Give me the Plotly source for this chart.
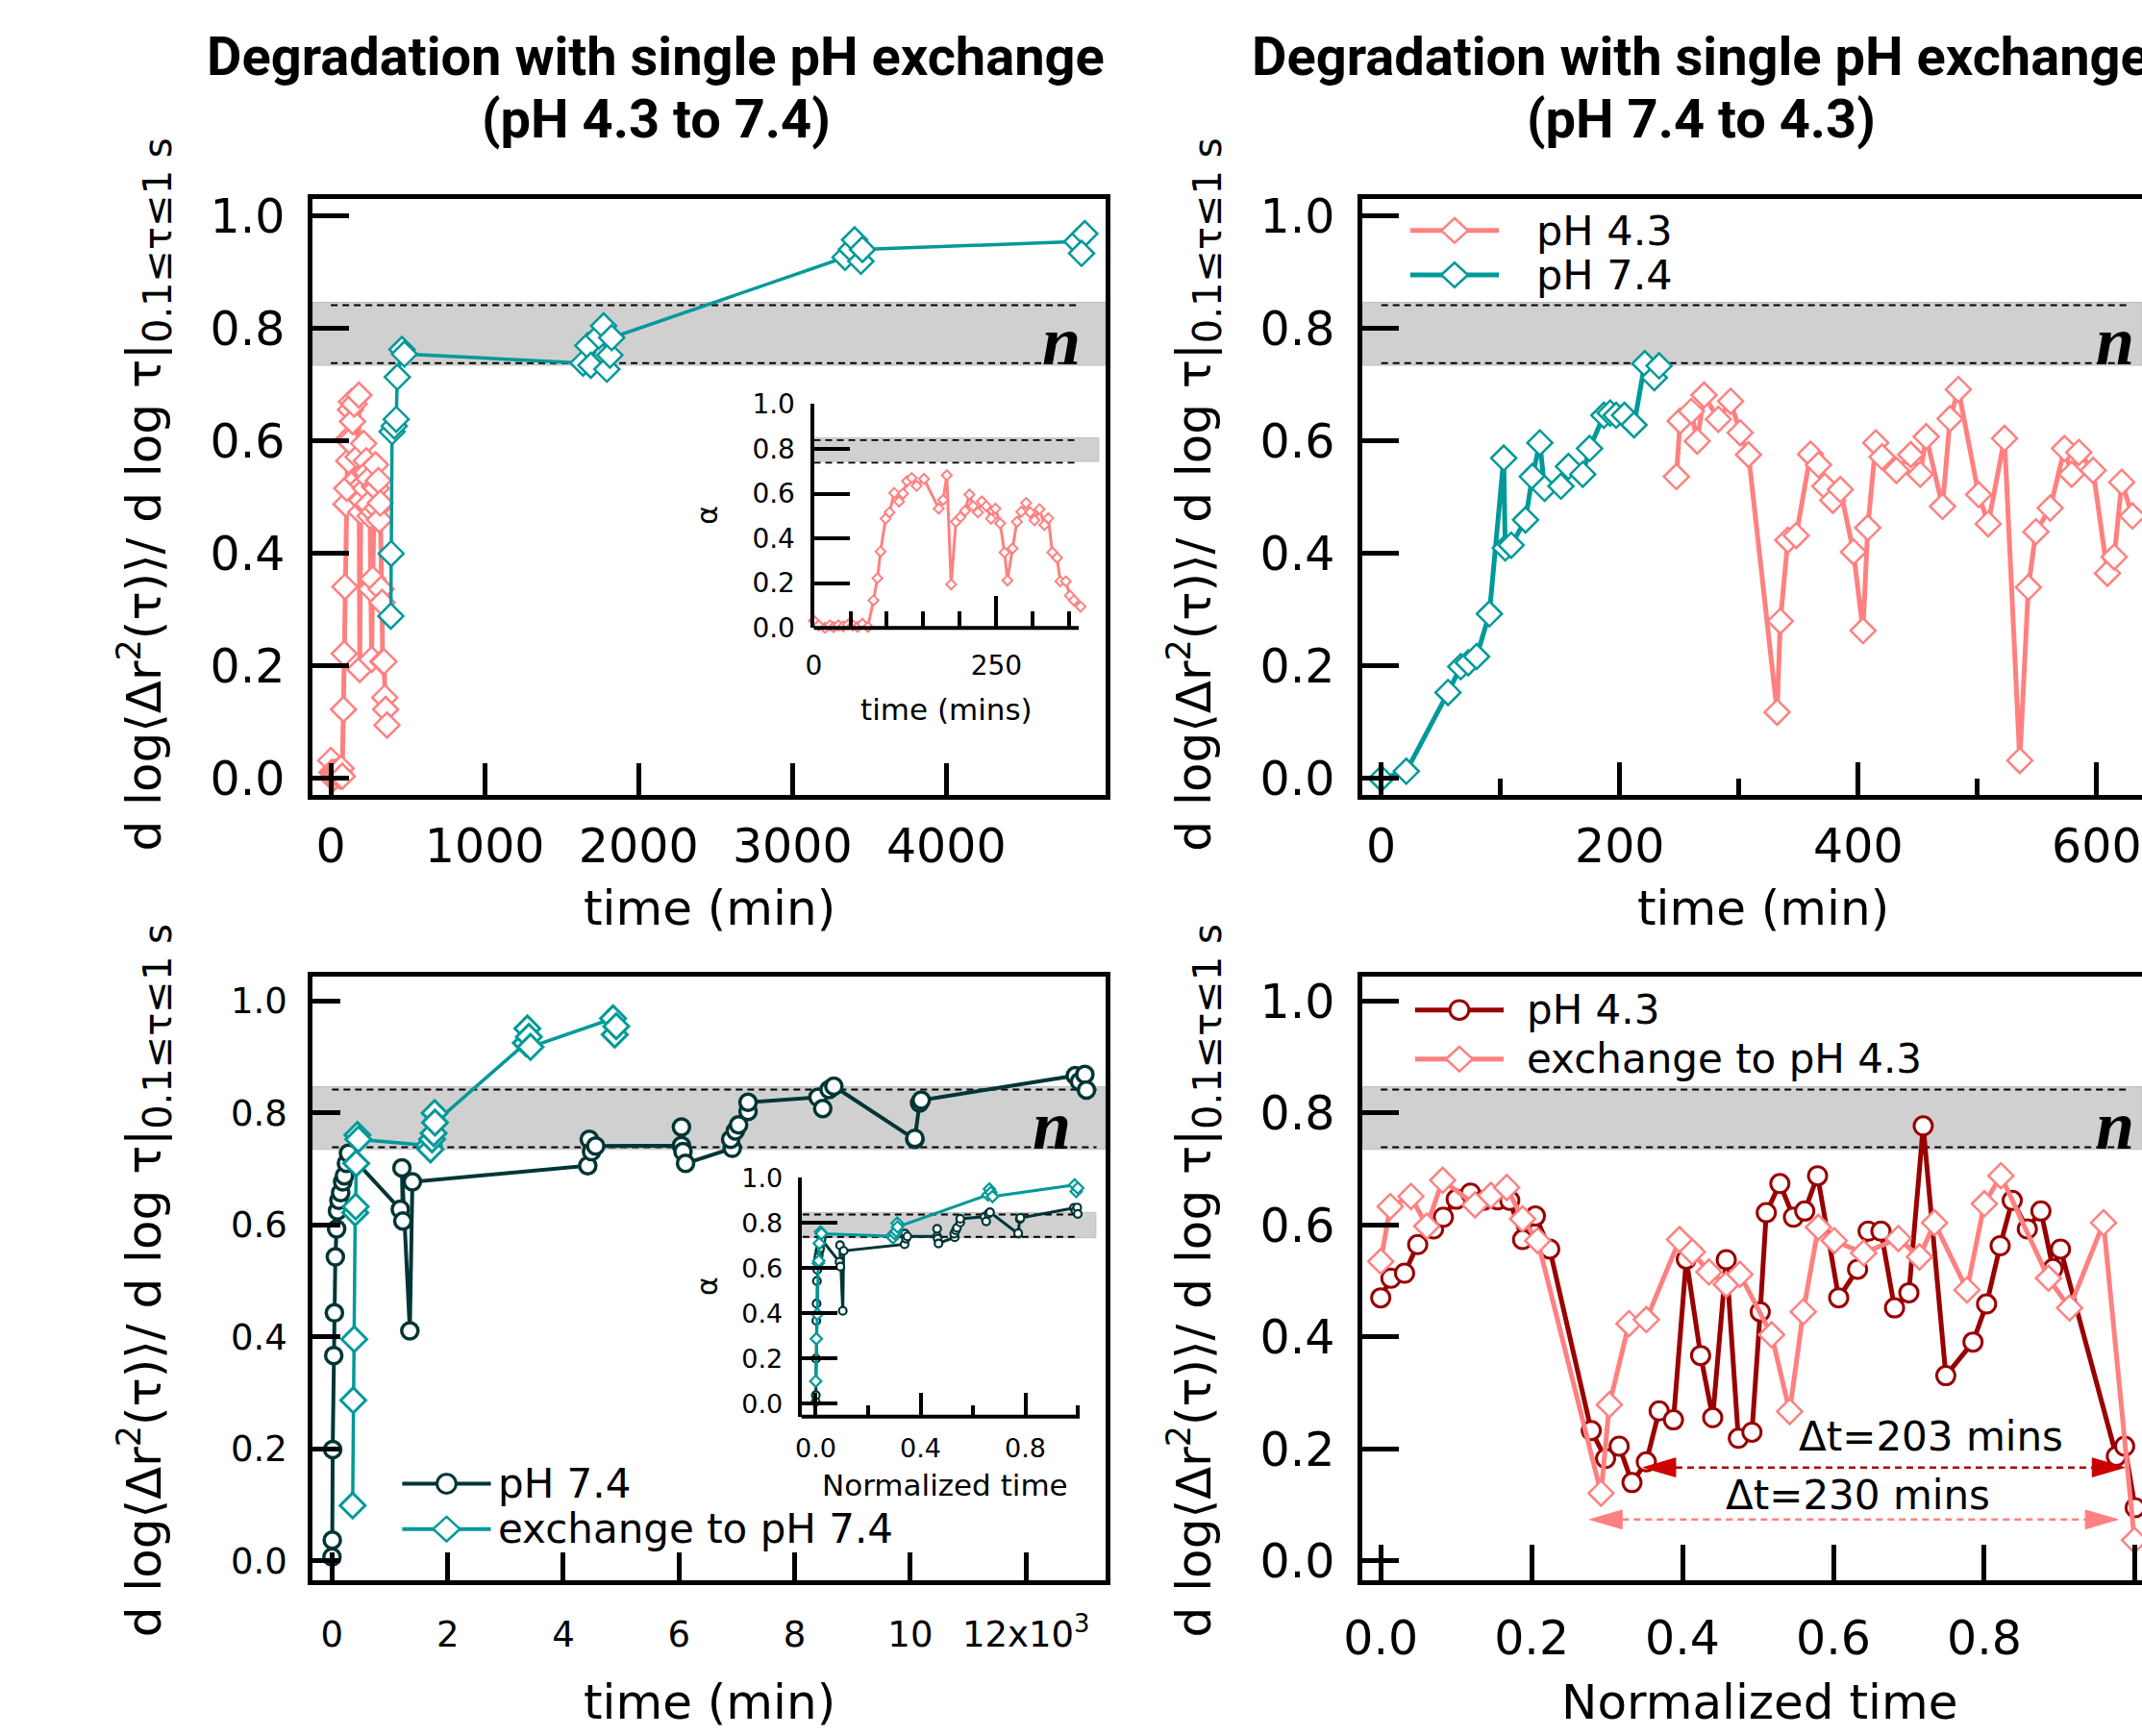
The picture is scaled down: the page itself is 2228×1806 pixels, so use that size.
import plotly.graph_objects as go

W, H = 2228, 1806

# ---------------- data ----------------
# Top-left: pH 4.3 before exchange (also shown in the inset, time in min)
tl_ph43_t = [0, 6.6, 15.3, 21.9, 27.1, 33.7, 40.2, 46.8, 53.4, 59.9, 66.4, 73.9,
             81.7, 87, 91.3, 98.3, 103.6, 110, 116.7, 122, 127.6, 134,
             140.7, 150.8, 171, 177, 182, 188, 194.5, 200.6, 207, 213,
             218, 224.7, 230, 236, 242.6, 248.7, 255, 261, 265, 272,
             278, 284, 290.6, 296, 302, 309, 315.6, 321, 326.5, 333,
             337.4, 345, 350.5, 356, 365]
tl_ph43_v = [0.032, 0.011, 0.0, 0.011, 0.003, 0.011, 0.007, 0.014, 0.011, 0.004, 0.018, 0.004,
             0.123, 0.222, 0.341, 0.488, 0.516, 0.603, 0.565, 0.60, 0.656, 0.67,
             0.635, 0.666, 0.533, 0.572, 0.682, 0.194, 0.474, 0.495, 0.523, 0.596,
             0.544, 0.516, 0.565, 0.544, 0.488, 0.533, 0.467, 0.337, 0.212, 0.355,
             0.474, 0.519, 0.558, 0.516, 0.481, 0.530, 0.46, 0.49, 0.337, 0.313,
             0.208, 0.208, 0.144, 0.123, 0.095]
# Top-left: after exchange to pH 7.4
tl_ph74_t = [390, 392, 398, 412, 425, 432, 462, 478, 1639, 1670, 1690, 1742, 1773, 1794,
             1814, 1825, 3342, 3383, 3404, 3445, 3455, 4848, 4900, 4879]
tl_ph74_v = [0.289, 0.40, 0.617, 0.627, 0.639, 0.714, 0.763, 0.755, 0.739, 0.77, 0.735, 0.787,
             0.805, 0.728, 0.753, 0.784, 0.927, 0.941, 0.958, 0.92, 0.941, 0.955, 0.969, 0.934]

# Top-right: pH 7.4 then exchange to pH 4.3 (time in min)
tr_ph74_t = [0, 21, 56, 66.7, 73, 80, 90.7, 102.7, 104, 109, 121, 126.7, 133, 137, 150.7,
             157, 169, 174.7, 186.7, 192, 197, 204, 212, 221, 229, 233]
tr_ph74_v = [0.0, 0.013, 0.153, 0.199, 0.206, 0.217, 0.293, 0.570, 0.41, 0.415, 0.46, 0.537,
             0.597, 0.516, 0.52, 0.555, 0.541, 0.587, 0.646, 0.65, 0.646, 0.646, 0.629, 0.738,
             0.713, 0.734]
tr_ph43_t = [247.5, 250.7, 260, 265, 270.7, 282.7, 293, 301, 308, 332,
             334.7, 341, 348, 360, 366.7, 372, 378.7, 385, 396, 404,
             408, 414.7, 420, 432, 444, 452, 457, 470.7, 477, 484,
             501, 509, 522.7, 535.5, 542.7, 549, 561, 573, 579, 585,
             597, 609, 614.7, 621, 630]
tr_ph43_v = [0.537, 0.636, 0.653, 0.6, 0.682, 0.639, 0.671, 0.615, 0.576, 0.118,
             0.28, 0.424, 0.432, 0.577, 0.558, 0.52, 0.495, 0.514, 0.403, 0.263,
             0.446, 0.597, 0.572, 0.548, 0.576, 0.541, 0.608, 0.484, 0.64, 0.692,
             0.505, 0.453, 0.605, 0.032, 0.34, 0.439, 0.481, 0.587, 0.541, 0.58,
             0.548, 0.365, 0.394, 0.527, 0.467]

# Bottom-left: pH 7.4 control and exchange to pH 7.4 (time in min)
bl_ph74_t = [0, 5, 12, 30, 42, 58, 80, 95, 120, 150, 185, 215, 250, 285,
             1181, 1225, 1209, 1346, 1390, 4422, 4449, 4488, 4559,
             6042, 6042, 6069, 6113, 6920, 6893, 6975, 7030, 7194, 7194,
             8403, 8485, 8595, 8677, 10078, 10078, 10160, 10188,
             12852, 12924, 13017, 13045]
bl_ph74_v = [0.007, 0.037, 0.199, 0.367, 0.443, 0.543, 0.593, 0.625, 0.644, 0.658, 0.677, 0.688, 0.71, 0.728,
             0.628, 0.607, 0.702, 0.411, 0.677, 0.706, 0.753, 0.731, 0.741,
             0.742, 0.775, 0.731, 0.71, 0.737, 0.753, 0.768, 0.779, 0.803, 0.819,
             0.828, 0.808, 0.842, 0.848, 0.753, 0.755, 0.818, 0.823,
             0.867, 0.856, 0.869, 0.841]
bl_ex74_t = [357, 368, 385, 401, 410, 418, 440, 456, 1675, 1703, 1730, 1758, 1774, 1780,
             3351, 3378, 3405, 3432, 4860, 4888, 4915]
bl_ex74_v = [0.099, 0.287, 0.396, 0.622, 0.633, 0.71, 0.761, 0.753, 0.742, 0.735, 0.753, 0.764,
             0.80, 0.783, 0.925, 0.951, 0.936, 0.918, 0.969, 0.94, 0.955]

# Bottom-right: normalized time
br_ph43_x = [0.0, 0.0135, 0.0316, 0.049, 0.070, 0.083, 0.100, 0.119, 0.136, 0.155,
             0.171, 0.188, 0.205, 0.224, 0.279, 0.298, 0.316, 0.333, 0.352, 0.369,
             0.388, 0.405, 0.424, 0.44, 0.458, 0.474, 0.492, 0.503, 0.511, 0.529,
             0.547, 0.562, 0.579, 0.607, 0.632, 0.646, 0.663, 0.681, 0.700, 0.719,
             0.749, 0.785, 0.803, 0.821, 0.837, 0.857, 0.875, 0.891, 0.901, 0.975,
             0.986, 1.0]
br_ph43_v = [0.470, 0.505, 0.514, 0.565, 0.593, 0.614, 0.646, 0.657, 0.644, 0.645,
             0.644, 0.574, 0.616, 0.557, 0.233, 0.183, 0.205, 0.140, 0.177, 0.268,
             0.252, 0.539, 0.367, 0.256, 0.538, 0.219, 0.230, 0.445, 0.622, 0.674,
             0.614, 0.625, 0.688, 0.470, 0.521, 0.589, 0.589, 0.452, 0.479, 0.777,
             0.331, 0.391, 0.459, 0.563, 0.644, 0.593, 0.625, 0.522, 0.557, 0.187,
             0.205, 0.095]
br_ex43_x = [0.0, 0.0126, 0.040, 0.061, 0.082, 0.125, 0.146, 0.167, 0.188, 0.208,
             0.292, 0.303, 0.329, 0.352, 0.396, 0.413, 0.435, 0.458, 0.476, 0.518,
             0.542, 0.560, 0.580, 0.601, 0.640, 0.686, 0.714, 0.734, 0.777, 0.800,
             0.822, 0.885, 0.913, 0.958, 0.999]
br_ex43_v = [0.535, 0.633, 0.651, 0.598, 0.680, 0.636, 0.653, 0.667, 0.611, 0.572,
             0.121, 0.279, 0.424, 0.431, 0.574, 0.552, 0.516, 0.494, 0.512, 0.404,
             0.267, 0.445, 0.596, 0.572, 0.550, 0.576, 0.543, 0.604, 0.484, 0.638,
             0.688, 0.505, 0.452, 0.604, 0.037]

# tick values / labels
y_ticks = [0.0, 0.2, 0.4, 0.6, 0.8, 1.0]
y_ticktext = ["0.0", "0.2", "0.4", "0.6", "0.8", "1.0"]
tl_xticks = [0, 1000, 2000, 3000, 4000]
tr_xticks = [0, 200, 400, 600]
tr_xminor = [100, 300, 500]
bl_xticks = [0, 2000, 4000, 6000, 8000, 10000, 12000]
bl_xticktext = ["0", "2", "4", "6", "8", "10", "12x10<sup>3</sup>"]
br_xticks = [0.0, 0.2, 0.4, 0.6, 0.8, 1.0]
br_xticktext = ["0.0", "0.2", "0.4", "0.6", "0.8", "1.0"]
in1_xticks = [0, 250]
in1_xminor = [50, 100, 150, 200, 300, 350]
in2_xticks = [0.0, 0.4, 0.8]
in2_xminor = [0.2, 0.6, 1.0]

# derived: normalized times for the bottom-left inset
bl_ph74_norm = [t / max(bl_ph74_t) for t in bl_ph74_t]
t0, t1 = min(bl_ex74_t), max(bl_ex74_t)
bl_ex74_norm = [(t - t0) / (t1 - t0) for t in bl_ex74_t]

# ---------------- style ----------------
PINK = "#FF8080"
TEAL = "#009999"
DTEAL = "#003535"
DRED = "#990000"
BANDC = "#D1D0D1"
FONT = "DejaVu Sans, sans-serif"
TFONT = "Roboto, Liberation Sans, sans-serif"
NFONT = "Liberation Serif, DejaVu Serif, serif"


def px(x):
    return x / W


def py(y):
    return 1 - y / H


fig = go.Figure()


def add(xs, ys, xa, ya, color, symbol, size, lw, mlw):
    fig.add_trace(go.Scatter(
        x=xs, y=ys, xaxis=xa, yaxis=ya, mode="lines+markers",
        line=dict(color=color, width=lw),
        marker=dict(symbol=symbol, size=size, color="white", line=dict(color=color, width=mlw)),
        cliponaxis=False, showlegend=False, hoverinfo="skip"))


# main panels
add(tl_ph43_t, tl_ph43_v, "x", "y", PINK, "diamond", 20, 5, 2.5)
add(tl_ph74_t, tl_ph74_v, "x", "y", TEAL, "diamond", 20, 3.5, 2.5)
add(tr_ph74_t, tr_ph74_v, "x2", "y2", TEAL, "diamond", 20, 5, 2.5)
add(tr_ph43_t, tr_ph43_v, "x2", "y2", PINK, "diamond", 20, 5, 2.5)
add(bl_ph74_t, bl_ph74_v, "x3", "y3", DTEAL, "circle", 17, 4, 3.5)
add(bl_ex74_t, bl_ex74_v, "x3", "y3", TEAL, "diamond", 20, 3.5, 3)
add(br_ph43_x, br_ph43_v, "x4", "y4", DRED, "circle", 19, 5, 3)
add(br_ex43_x, br_ex43_v, "x4", "y4", PINK, "diamond", 20, 5, 2.5)
# insets
add(tl_ph43_t, tl_ph43_v, "x5", "y5", PINK, "diamond", 8, 3, 2)
add(bl_ph74_norm, bl_ph74_v, "x6", "y6", DTEAL, "circle", 8, 3, 2.2)
add(bl_ex74_norm, bl_ex74_v, "x6", "y6", TEAL, "diamond", 9, 3, 2.2)


def main_axis(dom, rng, anchor, tickvals, ticktext, ticklen, fsize, mirror, **kw):
    d = dict(domain=dom, range=rng, anchor=anchor, showgrid=False, zeroline=False,
             showline=True, linecolor="black", linewidth=5, mirror=mirror,
             ticks="inside", ticklen=ticklen, tickwidth=5, tickcolor="black",
             tickmode="array", tickvals=tickvals, ticktext=ticktext,
             tickfont=dict(family=FONT, size=fsize, color="black"))
    d.update(kw)
    return d


TOP = [py(826), py(195)]
BOT = [py(1658), py(1019)]
LEFT = [px(308), px(1140)]
RIGHT = [px(1410), 1.0]
YR_TOP = [-0.029, 1.03]
YR_BOT = [-0.034, 1.043]

layout = dict(
    width=W, height=H, margin=dict(l=0, r=0, t=0, b=0),
    paper_bgcolor="white", plot_bgcolor="rgba(0,0,0,0)", showlegend=False,
    xaxis=main_axis(LEFT, [-118, 5034], "y", tl_xticks, [str(v) for v in tl_xticks], 33, 49, True,
                    ticklabelstandoff=6),
    yaxis=main_axis(TOP, YR_TOP, "x", y_ticks, y_ticktext, 38, 49, True, ticklabelstandoff=14),
    xaxis2=main_axis(RIGHT, [-15.6, 638], "y2", tr_xticks, [str(v) for v in tr_xticks], 34, 49, True,
                     ticklabelstandoff=6,
                     minor=dict(tickvals=tr_xminor, ticklen=17, tickwidth=5, ticks="inside", tickcolor="black")),
    yaxis2=main_axis(TOP, YR_TOP, "x2", y_ticks, y_ticktext, 38, 49, False, ticklabelstandoff=14),
    xaxis3=main_axis(LEFT, [-334, 13372], "y3", bl_xticks, bl_xticktext, 29, 37, True,
                     ticklabelstandoff=20),
    yaxis3=main_axis(BOT, YR_BOT, "x3", y_ticks, y_ticktext, 29, 37, True, ticklabelstandoff=14),
    xaxis4=main_axis(RIGHT, [-0.024, 1.009], "y4", br_xticks, br_xticktext, 37, 49, True,
                     ticklabelstandoff=13),
    yaxis4=main_axis(BOT, YR_BOT, "x4", y_ticks, y_ticktext, 38, 49, False, ticklabelstandoff=14),
    # inset 1 (top-left)
    xaxis5=dict(domain=[px(834), px(1133)], range=[0, 390], anchor="y5", showgrid=False, zeroline=False,
                showline=False, ticks="inside", ticklen=33, tickwidth=4, tickcolor="black",
                tickmode="array", tickvals=in1_xticks, ticktext=[str(v) for v in in1_xticks],
                minor=dict(tickvals=in1_xminor, ticklen=17, tickwidth=4, ticks="inside", tickcolor="black"),
                tickfont=dict(family=FONT, size=28, color="black"), ticklabelstandoff=20),
    yaxis5=dict(domain=[py(649), py(412)], range=[0, 1.0], anchor="x5", showgrid=False, zeroline=False,
                showline=True, linecolor="black", linewidth=4, ticks="inside", ticklen=37, tickwidth=4,
                tickcolor="black", tickmode="array", tickvals=y_ticks, ticktext=y_ticktext,
                tickfont=dict(family=FONT, size=28, color="black"), ticklabelstandoff=10),
    # inset 2 (bottom-left)
    xaxis6=dict(domain=[px(821), px(1130)], range=[-0.0545, 1.069], anchor="y6", showgrid=False,
                zeroline=False, showline=False, ticks="inside", ticklen=25, tickwidth=4, tickcolor="black",
                tickmode="array", tickvals=in2_xticks, ticktext=["0.0", "0.4", "0.8"],
                minor=dict(tickvals=in2_xminor, ticklen=12, tickwidth=4, ticks="inside", tickcolor="black"),
                tickfont=dict(family=FONT, size=27, color="black"), ticklabelstandoff=14),
    yaxis6=dict(domain=[py(1485), py(1232)], range=[-0.0586, 1.0], anchor="x6", showgrid=False,
                zeroline=False, showline=True, linecolor="black", linewidth=4, ticks="inside", ticklen=37,
                tickwidth=4, tickcolor="black", tickmode="array", tickvals=y_ticks, ticktext=y_ticktext,
                tickfont=dict(family=FONT, size=27, color="black"), ticklabelstandoff=10),
)
fig.update_layout(**layout)

shapes = []
annotations = []


def band(xa, ya, y0, y1, xdash0, xdash1, d0=0.739, d1=0.842, dashw=2):
    shapes.append(dict(type="rect", xref=xa + " domain", yref=ya, x0=0, x1=1, y0=y0, y1=y1,
                       fillcolor=BANDC, line=dict(color="#BEBEBE", width=1), layer="below"))
    for yy in (d0, d1):
        shapes.append(dict(type="line", xref=xa, yref=ya, x0=xdash0, x1=xdash1, y0=yy, y1=yy,
                           line=dict(color="black", width=dashw, dash="7px,5px"), layer="below"))


band("x", "y", 0.735, 0.847, 0, 4850)
band("x2", "y2", 0.735, 0.847, 0, 628)
band("x3", "y3", 0.735, 0.847, 0, 13220)
band("x4", "y4", 0.735, 0.847, 0, 0.992)
band("x5", "y5", 0.744, 0.849, 0, 363, 0.738, 0.839, 1.8)
band("x6", "y6", 0.735, 0.847, -0.05, 1.007, 0.739, 0.838, 1.8)

# inset x-axis lines
shapes.append(dict(type="line", xref="x5 domain", yref="y5 domain", x0=0, x1=0.93, y0=0, y1=0,
                   line=dict(color="black", width=4)))
shapes.append(dict(type="line", xref="x6 domain", yref="y6 domain", x0=0, x1=0.945, y0=0, y1=0,
                   line=dict(color="black", width=4)))

# "n" labels
for (xx, yy) in [(1094, 345), (2200, 345), (1084, 1177), (2200, 1177)]:
    annotations.append(dict(x=px(xx), y=py(yy), xref="paper", yref="paper", showarrow=False,
                            text="<b><i>n</i></b>", font=dict(family=NFONT, size=72, color="black"),
                            xanchor="center", yanchor="middle"))

# titles
for (xx, yy, txt) in [(668, 44, "Degradation with single pH exchange"), (668, 110, "(pH 4.3 to 7.4)"),
                      (1765, 44, "Degradation with single pH exchange"), (1765, 110, "(pH 7.4 to 4.3)")]:
    annotations.append(dict(x=px(xx), y=py(yy), xref="paper", yref="paper", showarrow=False,
                            text="<b>" + txt + "</b>", font=dict(family=TFONT, size=56, color="black"),
                            xanchor="center", yanchor="middle"))

# y-axis titles
YT = ("d log⟨Δr<sup>2</sup>(τ)⟩/ d log τ|"
      "<sub><span style='font-size:40px'>0.1≤τ≤1 s</span></sub>")
for (xx, yy) in [(132, 508), (1234, 508), (132, 1341), (1234, 1341)]:
    annotations.append(dict(x=px(xx), y=py(yy), xref="paper", yref="paper", showarrow=False,
                            text=YT, textangle=-90, font=dict(family=FONT, size=50, color="black"),
                            xanchor="center", yanchor="middle"))

# x-axis titles
for (xx, yy, txt) in [(725, 946, "time (min)"), (1830, 946, "time (min)"),
                      (725, 1788, "time (min)"), (1826, 1788, "Normalized time")]:
    annotations.append(dict(x=px(xx), y=py(yy), xref="paper", yref="paper", showarrow=False,
                            text=txt, font=dict(family=FONT, size=50, color="black"),
                            xanchor="center", yanchor="middle"))

# inset labels
for (xx, yy, txt, ang, fs) in [(722, 530, "α", -90, 30), (973, 735, "time (mins)", 0, 31),
                               (722, 1347, "α", -90, 30), (972, 1557, "Normalized time", 0, 31)]:
    annotations.append(dict(x=px(xx), y=py(yy), xref="paper", yref="paper", showarrow=False,
                            text=txt, textangle=ang, font=dict(family=FONT, size=fs, color="black"),
                            xanchor="center", yanchor="middle"))


# legends drawn as shapes + text
def legend_item(x0, x1, cy, color, kind, lw, text, tx, fsize):
    shapes.append(dict(type="line", xref="paper", yref="paper", x0=px(x0), x1=px(x1), y0=py(cy), y1=py(cy),
                       line=dict(color=color, width=lw)))
    cx = (x0 + x1) / 2
    if kind == "diamond":
        hw, hh = 14, 13
        path = "M {a},{b} L {c},{d} L {e},{f} L {g},{h} Z".format(
            a=px(cx - hw), b=py(cy), c=px(cx), d=py(cy - hh), e=px(cx + hw), f=py(cy), g=px(cx), h=py(cy + hh))
        shapes.append(dict(type="path", xref="paper", yref="paper", path=path, fillcolor="white",
                           line=dict(color=color, width=2.5)))
    else:
        r = 10
        shapes.append(dict(type="circle", xref="paper", yref="paper", x0=px(cx - r), x1=px(cx + r),
                           y0=py(cy + r), y1=py(cy - r), fillcolor="white", line=dict(color=color, width=3)))
    annotations.append(dict(x=px(tx), y=py(cy), xref="paper", yref="paper", showarrow=False, text=text,
                            font=dict(family=FONT, size=fsize, color="black"), xanchor="left",
                            yanchor="middle"))


legend_item(1460, 1553, 228, PINK, "diamond", 5, "pH 4.3", 1590, 43)
legend_item(1460, 1553, 275, TEAL, "diamond", 5, "pH 7.4", 1590, 43)
legend_item(402, 495, 1556, DTEAL, "circle", 4, "pH 7.4", 500, 42)
legend_item(402, 495, 1604, TEAL, "diamond", 4, "exchange to pH 7.4", 500, 42)
legend_item(1465, 1558, 1054, DRED, "circle", 5, "pH 4.3", 1580, 42)
legend_item(1465, 1558, 1106, PINK, "diamond", 5, "exchange to pH 4.3", 1580, 42)

# delta-t arrows (bottom-right)
XS, YS = 792.0, 594.0  # px per data unit in bottom-right panel
HL, HW = 34, 10


def dt_arrow(xl, xr, yy, lcolor, hcolor):
    shapes.append(dict(type="line", xref="x4", yref="y4", x0=xl + HL / XS, x1=xr - HL / XS, y0=yy, y1=yy,
                       line=dict(color=lcolor, width=2.5, dash="7px,5px")))
    for tip, base in [(xl, xl + HL / XS), (xr, xr - HL / XS)]:
        path = "M {a},{b} L {c},{d} L {e},{f} Z".format(a=tip, b=yy, c=base, d=yy + HW / YS, e=base, f=yy - HW / YS)
        shapes.append(dict(type="path", xref="x4", yref="y4", path=path, fillcolor=hcolor,
                           line=dict(color=hcolor, width=1)))


dt_arrow(0.348, 0.986, 0.167, "#B00000", "#CC0000")
dt_arrow(0.277, 0.977, 0.074, PINK, PINK)
annotations.append(dict(x=0.729, y=0.222, xref="x4", yref="y4", showarrow=False, text="Δt=203 mins",
                        font=dict(family=FONT, size=42, color="black"), xanchor="center", yanchor="middle"))
annotations.append(dict(x=0.633, y=0.117, xref="x4", yref="y4", showarrow=False, text="Δt=230 mins",
                        font=dict(family=FONT, size=42, color="black"), xanchor="center", yanchor="middle"))

fig.update_layout(shapes=shapes, annotations=annotations)
fig.write_html("out.html")
